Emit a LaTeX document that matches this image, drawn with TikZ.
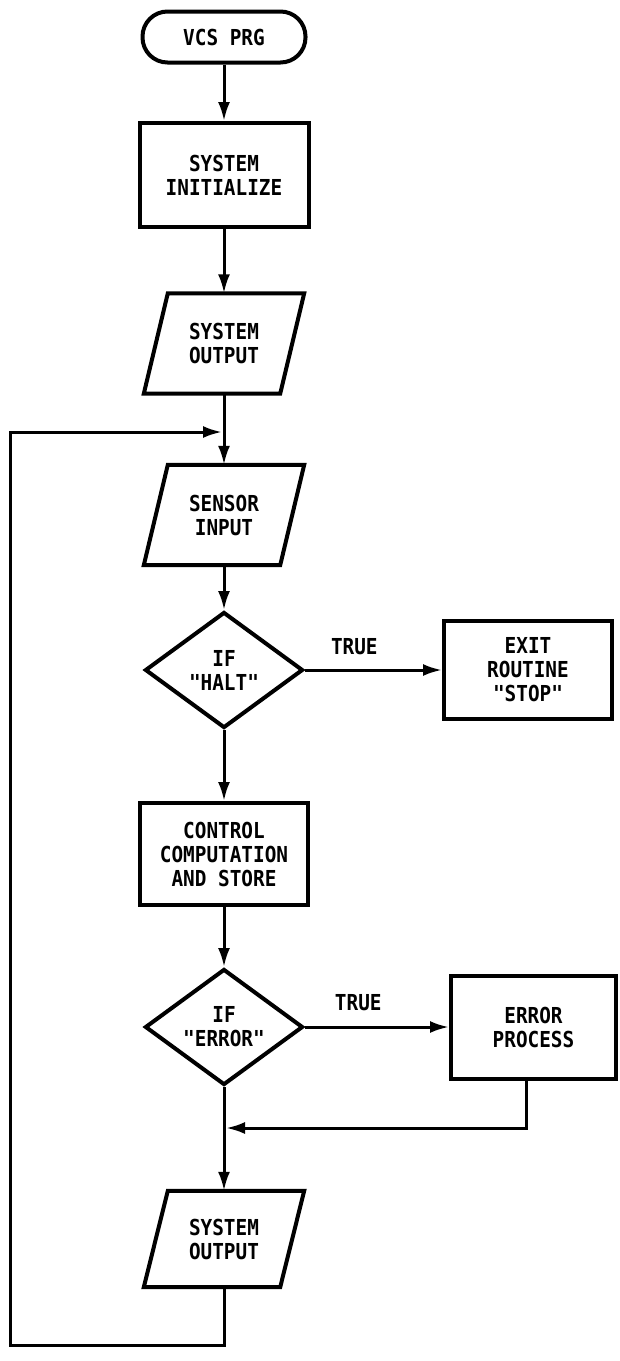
\documentclass[tikz,border=0pt]{standalone}
\usepackage{fontspec}
\setmonofont[FakeStretch=0.88]{DejaVu Sans Mono}
\usetikzlibrary{shapes.geometric,arrows.meta,calc}

\begin{document}
\begin{tikzpicture}[x=1pt,y=-1pt,
  every node/.style={font=\ttfamily\bfseries\fontsize{22}{24}\selectfont},
  outline/.style={draw, line width=4pt},
  term/.style={outline, rectangle, rounded corners=25pt, align=center,
    inner sep=0pt, minimum width=163pt, minimum height=51pt},
  proc/.style={outline, rectangle, align=center, inner sep=0pt},
  decision/.style={outline, diamond, aspect=1.36, align=center, inner sep=0pt,
    minimum width=158pt, minimum height=116pt},
  io/.style={rectangle, align=center, inner sep=0pt,
    minimum width=136pt, minimum height=100pt},
  flow/.style={line width=3pt, line join=miter,
    -{Latex[length=19pt,width=12pt]}},
  lbl/.style={inner sep=1pt}
]
\useasboundingbox (0,0) rectangle (620,1361);

% main column
\node[term] (start) at (224,37) {VCS PRG};
\node[proc, minimum width=169pt, minimum height=104pt] (init) at (224,175)
  {SYSTEM\\INITIALIZE};
\node[io] (so1) at (224,343.5) {SYSTEM\\OUTPUT};
\node[io] (sens) at (224,515) {SENSOR\\INPUT};
\node[decision] (halt) at (224,670) {IF\\"HALT"};
\node[proc, minimum width=168pt, minimum height=98pt] (exit) at (528,670)
  {EXIT\\ROUTINE\\"STOP"};
\node[proc, minimum width=168pt, minimum height=102pt] (ctrl) at (224,854)
  {CONTROL\\COMPUTATION\\AND STORE};
\node[decision] (errd) at (224,1027) {IF\\"ERROR"};
\node[proc, minimum width=165pt, minimum height=103pt] (errbox) at (533.5,1027)
  {ERROR\\PROCESS};
\node[io, minimum height=96pt] (so2) at (224,1239) {SYSTEM\\OUTPUT};

% slanted input/output outlines
\foreach \n in {so1,sens,so2}{
  \draw[outline, line join=miter]
    ($(\n.north west)+(12,0)$) -- ($(\n.north east)+(12,0)$) --
    ($(\n.south east)+(-12,0)$) -- ($(\n.south west)+(-12,0)$) -- cycle;
}

% junction points
\coordinate (loopin) at (222,432);
\coordinate (upleft) at (10,432);
\coordinate (lowleft) at (10,1345);
\coordinate (join) at (226,1128);

% connectors
\draw[flow] (start.south) -- (init.north);
\draw[flow] (init.south) -- (so1.north);
\draw[flow] (so1.south) -- (sens.north);
\draw[flow] (sens.south) -- (halt.north);
\draw[flow] (halt.east) -- node[lbl, pos=0.36, yshift=23pt] (t1) {TRUE} (exit.west);
\draw[flow] (halt.south) -- (ctrl.north);
\draw[flow] (ctrl.south) -- (errd.north);
\draw[flow] (errd.east) -- node[lbl, pos=0.37, yshift=24pt] (t2) {TRUE} (errbox.west);
\draw[flow] (errd.south) -- (so2.north);
\draw[flow] ([xshift=-7.5pt]errbox.south) |- (join);
\draw[flow] (so2.south) |- (lowleft) -- (upleft) -- (loopin);
\end{tikzpicture}
\end{document}
